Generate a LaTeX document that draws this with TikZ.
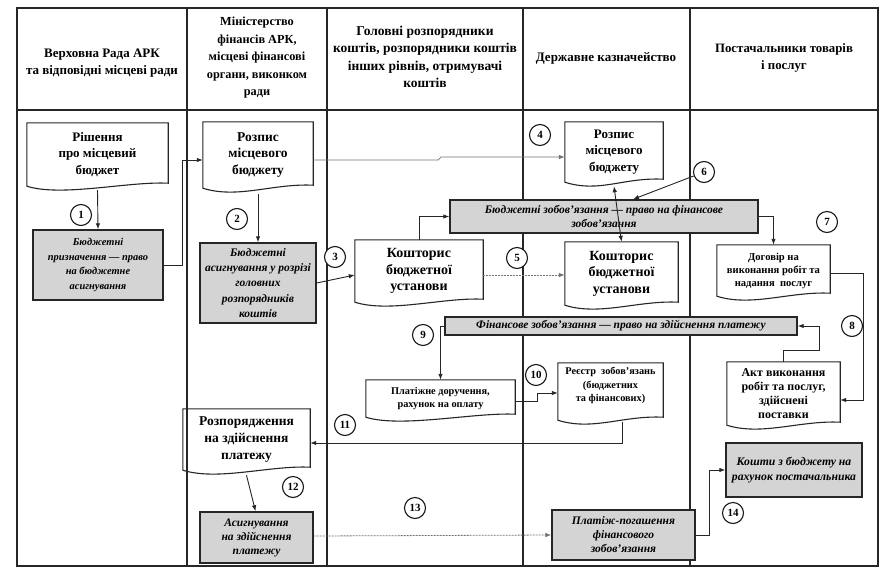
\documentclass[tikz,border=0pt]{standalone}
\usepackage{fontspec}
\setmainfont{Liberation Serif}
\usetikzlibrary{arrows.meta,calc}
\newcommand\docframe[1]{\draw[docline] (#1.south west) -- (#1.north west) -- (#1.north east) -- ([yshift=3pt]#1.south east) .. controls +(-40,-2) and +(35,11) .. (#1.south west) -- cycle;}
\newcommand\fsz[2]{\fontsize{#1}{#2}\selectfont}
\begin{document}
\begin{tikzpicture}[x=1pt,y=-1pt,
  laneline/.style={line width=1.1pt, draw=black!85},
  frameline/.style={line width=1.6pt, draw=black!85},
  headtxt/.style={font=\bfseries\fsz{13}{16.5}, align=center, inner sep=0pt},
  doctxt/.style={font=\bfseries\fsz{13}{16.7}, align=center, inner sep=0pt},
  docsmall/.style={font=\bfseries\fsz{10.3}{13.3}, align=center, inner sep=0pt},
  docline/.style={line width=1.1pt, draw=black!85},
  shadebox/.style={draw=black!85, line width=1.4pt, fill=black!17, font=\bfseries\itshape\fsz{11.5}{14}, align=center, inner sep=1pt},
  numc/.style={circle, draw=black!90, line width=1.1pt, fill=white, minimum size=21pt, inner sep=0pt, font=\bfseries\fsz{11}{11}},
  conn/.style={line width=0.9pt, draw=black!85, -{Latex[length=6pt,width=4.5pt]}},
  dconn/.style={line width=0.9pt, draw=black!85, {Latex[length=6pt,width=4.5pt]}-{Latex[length=6pt,width=4.5pt]}},
  faint/.style={line width=0.7pt, draw=black!55, -{Latex[length=6pt,width=4.5pt]}},
  dotconn/.style={line width=0.8pt, draw=black!55, dash pattern=on 2pt off 1pt, -{Latex[length=6pt,width=4.5pt]}}
]
\useasboundingbox (0,0) rectangle (881,568);
\fill[white] (0,0) rectangle (881,568);
% frame and lanes
\draw[frameline] (17,8) rectangle (878,566);
\draw[frameline] (17,110) -- (878,110);
\foreach \xx in {187,327,523,690} \draw[laneline] (\xx,8) -- (\xx,566);
% headers
\node[headtxt] (h1) at (102,63) {Верховна Рада АРК\\та відповідні місцеві ради};
\node[headtxt, font=\bfseries\fsz{12.3}{17.5}] (h2) at (257,58) {Міністерство\\фінансів АРК,\\місцеві фінансові\\органи, виконком\\ради};
\node[headtxt, font=\bfseries\fsz{13.5}{17.3}] (h3) at (425,57) {Головні розпорядники\\коштів, розпорядники коштів\\інших рівнів, отримувачі\\коштів};
\node[headtxt] (h4) at (606,58) {Державне казначейство};
\node[headtxt, font=\bfseries\fsz{12.8}{16.5}] (h5) at (784,58) {Постачальники товарів\\і послуг};
% documents
\node[doctxt, minimum width=141pt, minimum height=63pt] (A) at (97.5,154.5) {Рішення\\про місцевий\\бюджет};
\node[doctxt, font=\bfseries\fsz{13.5}{16.7}, minimum width=110pt, minimum height=66pt] (C) at (258,155) {Розпис\\місцевого\\бюджету};
\node[doctxt, minimum width=98pt, minimum height=60pt] (G) at (614,152) {Розпис\\місцевого\\бюджету};
\node[doctxt, font=\bfseries\fsz{14}{16.5}, minimum width=128pt, minimum height=62pt] (E) at (419,271) {Кошторис\\бюджетної\\установи};
\node[doctxt, font=\bfseries\fsz{14}{16.5}, minimum width=113pt, minimum height=63pt] (H) at (621.5,273.5) {Кошторис\\бюджетної\\установи};
\node[docsmall, font=\bfseries\fsz{10.6}{13}, minimum width=113pt, minimum height=51pt] (I) at (773.5,270.5) {Договір на\\виконання робіт та\\надання\ \ послуг};
\node[docsmall, minimum width=149pt, minimum height=37pt] (L) at (440.5,398.5) {Платіжне доручення,\\рахунок на оплату};
\node[docsmall, minimum width=105pt, minimum height=57pt, text depth=14pt] (M) at (610.5,391.5) {Реєстр\ \ зобов’язань\\(бюджетних\\та фінансових)};
\node[docsmall, font=\bfseries\fsz{12}{13.8}, minimum width=113pt, minimum height=63pt] (K) at (783.5,393.5) {Акт виконання\\робіт та послуг,\\здійснені\\поставки};
\node[doctxt, font=\bfseries\fsz{13.5}{17}, minimum width=127pt, minimum height=61pt] (N) at (246.5,439.5) {Розпорядження\\на здійснення\\платежу};
\foreach \d in {A,C,G,E,H,I,L,M,K,N} \docframe{\d};
% shaded boxes
\node[shadebox, font=\bfseries\itshape\fsz{10.4}{14.7}, minimum width=130pt, minimum height=70pt] (B) at (98,265) {Бюджетні\\призначення — право\\на бюджетне\\асигнування};
\node[shadebox, font=\bfseries\itshape\fsz{11.5}{15.3}, minimum width=116pt, minimum height=80pt] (D) at (258,283) {Бюджетні\\асигнування у розрізі\\головних\\розпорядників\\коштів};
\node[shadebox, minimum width=308pt, minimum height=33pt] (F) at (604,216.5) {Бюджетні зобов’язання — право на фінансове\\зобов’язання};
\node[shadebox, minimum width=352pt, minimum height=18pt] (J) at (621,326) {Фінансове зобов’язання — право на здійснення платежу};
\node[shadebox, minimum width=113pt, minimum height=51pt] (O) at (256.5,537.5) {Асигнування\\на здійснення\\платежу};
\node[shadebox, minimum width=143pt, minimum height=50pt] (P) at (623.5,535) {Платіж-погашення\\фінансового\\зобов’язання};
\node[shadebox, font=\bfseries\itshape\fsz{11.7}{15}, minimum width=136pt, minimum height=54pt] (Q) at (794,470) {Кошти з бюджету на\\рахунок постачальника};
% connectors
\coordinate (b1) at (182,265);
\coordinate (c1) at (438,160);
\coordinate (c2) at (441,157);
\coordinate (i1) at (863,273);
\coordinate (k1) at (819,350);
\coordinate (l1) at (537,401);
\coordinate (p1) at (709,535);
\draw[conn] ([yshift=-4pt]A.south) -- (B.north);
\draw[conn] (B.east) -- (b1) |- ([yshift=-5pt]C.west);
\draw[faint] ([yshift=-5pt]C.east) -- (c1) -- (c2) -- ([yshift=-5pt]G.west);
\draw[conn] ([yshift=-6pt]C.south) -- (D.north);
\draw[conn] (D.east) -- ([yshift=-4pt]E.west);
\draw[conn] (E.north) |- (F.west);
\draw[dconn] ([yshift=-4pt]G.south) -- (H.north);
\draw[dotconn] ([yshift=-4pt]E.east) -- ([yshift=-1.5pt]H.west);
\draw[conn] (F.east) -| (I.north);
\draw[conn] ([yshift=-2.5pt]I.east) -- (i1) |- ([yshift=-6.5pt]K.east);
\draw[conn] (K.north) |- (k1) |- (J.east);
\draw[conn] (J.west) -| (L.north);
\draw[conn] ([yshift=-2.5pt]L.east) -- (l1) |- ([yshift=-1.5pt]M.west);
\draw[conn] ([xshift=11.5pt,yshift=-2pt]M.south) |- ([yshift=-3.5pt]N.east);
\draw[conn] ([yshift=-5pt]N.south) -- ([xshift=-1pt]O.north);
\draw[dotconn] ([yshift=1.5pt]O.east) -- (P.west);
\draw[conn] (P.east) -- (p1) |- (Q.west);
% numbered circles
\node[numc] (n1) at (81,215) {1};
\node[numc] (n2) at (237,219) {2};
\node[numc] (n3) at (335,257) {3};
\node[numc] (n4) at (540,135) {4};
\node[numc] (n5) at (517,258) {5};
\node[numc] (n6) at (704,172) {6};
\node[numc] (n7) at (827,222) {7};
\node[numc] (n8) at (852,326) {8};
\node[numc] (n9) at (423,335) {9};
\node[numc] (n10) at (536,375) {10};
\node[numc] (n11) at (345,425) {11};
\node[numc] (n12) at (293,487) {12};
\node[numc] (n13) at (415,508) {13};
\node[numc] (n14) at (733,513) {14};
\draw[conn] (n6) -- ([xshift=29pt]F.north);
\end{tikzpicture}
\end{document}
